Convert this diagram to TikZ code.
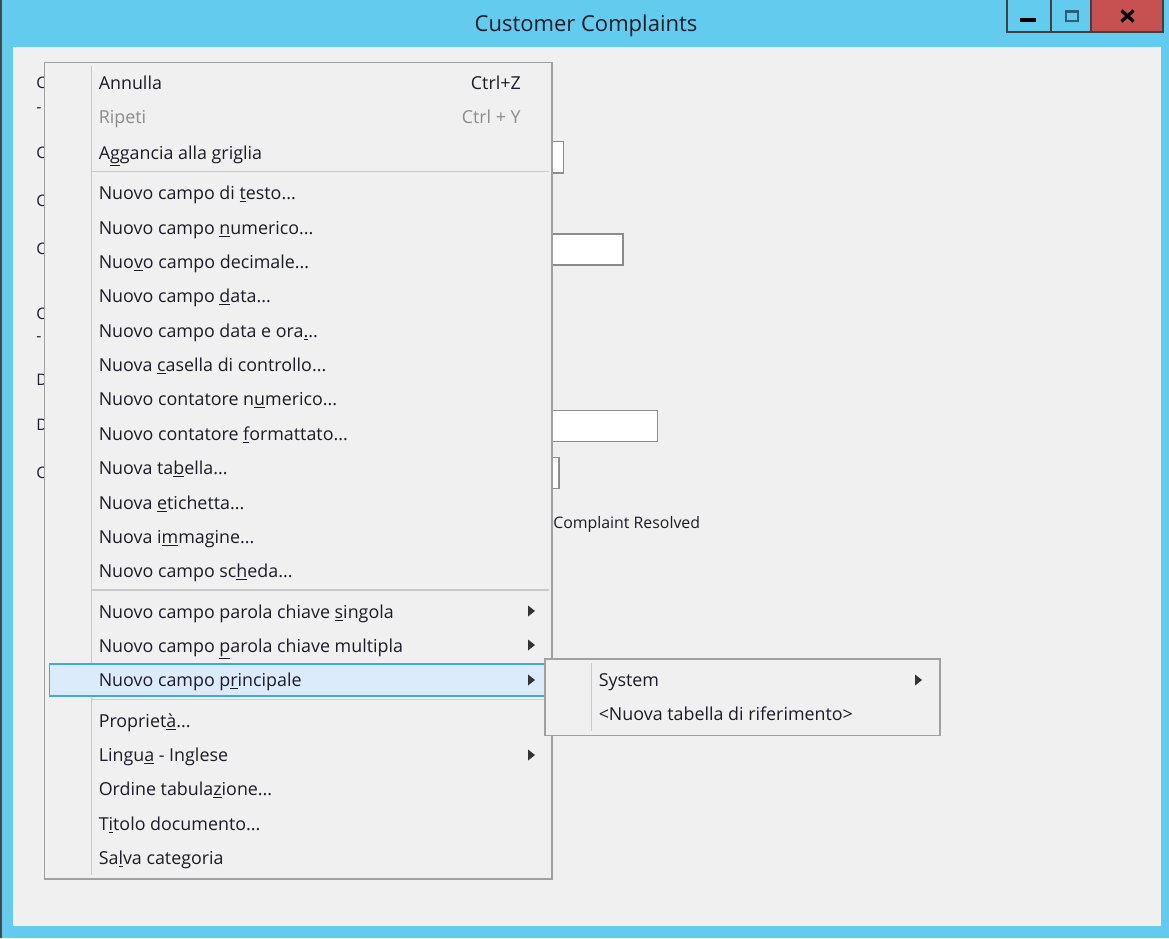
\documentclass[tikz,border=0pt]{standalone}
\usepackage{fontspec}
\setmainfont{Open Sans}
\usetikzlibrary{calc}
\definecolor{winblue}{HTML}{63CBEE}
\definecolor{winface}{HTML}{F0F0F0}
\definecolor{menuline}{HTML}{A0A0A0}
\definecolor{sepline}{HTML}{C9C9C9}
\definecolor{hiborder}{HTML}{3FA9E0}
\definecolor{hifill}{HTML}{DCEBFC}
\definecolor{closered}{HTML}{C75050}
\definecolor{boxline}{HTML}{8C8C8C}
\definecolor{inktext}{HTML}{1C1C28}
\definecolor{maxicon}{HTML}{2A6078}
\newcommand{\mn}[1]{\underline{#1}}
\tikzset{
	menutext/.style={anchor=base west, inner sep=0pt, text=inktext, font=\fontsize{13.4}{16}\selectfont},
	graytext/.style={menutext, text=black!45},
	shorttext/.style={menutext, anchor=base east},
	formtext/.style={menutext, font=\fontsize{11.9}{14}\selectfont},
	menubox/.style={draw=menuline, line width=1.1pt, fill=winface},
	fieldbox/.style={draw=boxline, line width=1.1pt, fill=white},
	sepbar/.style={draw=sepline, line width=1.1pt},
	subarrow/.style={fill=black!80, draw=none},
	winbutton/.style={draw=black!75, line width=0.9pt}
}
\begin{document}
\begin{tikzpicture}[x=0.75pt,y=-0.75pt]
		%%%%% START %%%%%
		\useasboundingbox (0, 0) rectangle (1169, 938);

		% window frame
		\fill[winblue] (0, 0) rectangle (1169, 938);
		\fill[black!72] (0, 0) rectangle (2, 938);
		\fill[winface] (12.5, 47) rectangle (1161, 926);
		\node[menutext, anchor=base, font=\fontsize{16.5}{20}\selectfont] (title) at (586, 31.5) {Customer Complaints};

		% window buttons
		\fill[closered] (1091, 0) rectangle (1163, 32);
		\draw[winbutton] (1007, 0) -- (1007, 32) -- (1163, 32) -- (1163, 0);
		\draw[winbutton] (1051, 0) -- (1051, 32);
		\draw[winbutton] (1091, 0) -- (1091, 32);
		\fill[black] (1020, 18) rectangle (1036, 22);
		\draw[draw=maxicon, line width=2.2pt] (1066, 11.5) rectangle (1078, 21);
		\draw[line width=2.4pt] (1121.5, 10.5) -- (1133.5, 21.5);
		\draw[line width=2.4pt] (1133.5, 10.5) -- (1121.5, 21.5);

		% form behind the menu
		\node[formtext] (formA) at (36, 89) {C};
		\node[formtext] (formB) at (36, 113) {-};
		\node[formtext] (formC) at (36, 158) {C};
		\node[formtext] (formD) at (36, 206) {C};
		\node[formtext] (formE) at (36, 254) {C};
		\node[formtext] (formF) at (36, 319) {C};
		\node[formtext] (formG) at (36, 341) {-};
		\node[formtext] (formH) at (36, 385) {D};
		\node[formtext] (formI) at (36, 430) {D};
		\node[formtext] (formJ) at (36, 478) {C};
		\draw[fieldbox] (500, 141.5) rectangle (563.5, 173);
		\draw[fieldbox] (500, 234) rectangle (623, 265);
		\draw[fieldbox] (500, 410.5) rectangle (657.5, 441.5);
		\draw[fieldbox] (500, 457.5) rectangle (559, 488.5);
		\node[formtext] (resolved) at (553, 528) {Complaint Resolved};

		% main menu
		\draw[menubox] (44.5, 62.5) rectangle (552, 879);
		\draw[sepbar] (91.5, 66) -- (91.5, 875);
		\draw[sepbar] (92, 171.5) -- (549, 171.5);
		\draw[sepbar] (92, 590) -- (549, 590);
		\draw[sepbar] (92, 699.5) -- (549, 699.5);
		\draw[draw=hiborder, fill=hifill, line width=1.4pt] (49.5, 664) rectangle (546, 696);

		\node[menutext] (annulla) at (98.5, 90) {Annulla};
		\node[shorttext] (annullakey) at (521, 90) {Ctrl+Z};
		\node[graytext] (ripeti) at (98.5, 124) {Ripeti};
		\node[shorttext, text=black!45] (ripetikey) at (521, 124) {Ctrl + Y};
		\node[menutext] (griglia) at (98.5, 159) {A\mn{g}gancia alla griglia};
		\node[menutext] (testo) at (98.5, 199) {Nuovo campo di \mn{t}esto...};
		\node[menutext] (numerico) at (98.5, 234) {Nuovo campo \mn{n}umerico...};
		\node[menutext] (decimale) at (98.5, 268) {Nuo\mn{v}o campo decimale...};
		\node[menutext] (data) at (98.5, 302) {Nuovo campo \mn{d}ata...};
		\node[menutext] (dataora) at (98.5, 337) {Nuovo campo data e ora\mn{.}..};
		\node[menutext] (casella) at (98.5, 371) {Nuova \mn{c}asella di controllo...};
		\node[menutext] (contnum) at (98.5, 405) {Nuovo contatore n\mn{u}merico...};
		\node[menutext] (contform) at (98.5, 440) {Nuovo contatore \mn{f}ormattato...};
		\node[menutext] (tabella) at (98.5, 474) {Nuova ta\mn{b}ella...};
		\node[menutext] (etichetta) at (98.5, 509) {Nuova \mn{e}tichetta...};
		\node[menutext] (immagine) at (98.5, 543) {Nuova i\mn{m}magine...};
		\node[menutext] (scheda) at (98.5, 577) {Nuovo campo sc\mn{h}eda...};
		\node[menutext] (singola) at (98.5, 618) {Nuovo campo parola chiave \mn{s}ingola};
		\node[menutext] (multipla) at (98.5, 652) {Nuovo campo \mn{p}arola chiave multipla};
		\node[menutext] (principale) at (98.5, 686.5) {Nuovo campo p\mn{r}incipale};
		\node[menutext] (proprieta) at (98.5, 727.5) {Propriet\mn{à}...};
		\node[menutext] (lingua) at (98.5, 761.5) {Lingu\mn{a} - Inglese};
		\node[menutext] (ordine) at (98.5, 795.5) {Ordine tabula\mn{z}ione...};
		\node[menutext] (titolo) at (98.5, 830) {T\mn{i}tolo documento...};
		\node[menutext] (salva) at (98.5, 864.5) {Sa\mn{l}va categoria};

		\fill[subarrow] (528, 605.5) -- (535, 611) -- (528, 616.5) -- cycle;
		\fill[subarrow] (528, 639.5) -- (535, 645) -- (528, 650.5) -- cycle;
		\fill[subarrow] (528, 674.5) -- (535, 680) -- (528, 685.5) -- cycle;
		\fill[subarrow] (528, 749.5) -- (535, 755) -- (528, 760.5) -- cycle;

		% sub menu
		\draw[menubox] (545, 659) rectangle (940, 735.5);
		\draw[sepbar] (591.5, 663) -- (591.5, 731);
		\node[menutext] (system) at (598.5, 686.5) {System};
		\node[menutext] (riferimento) at (598.5, 720.5) {<Nuova tabella di riferimento>};
		\fill[subarrow] (915, 674.5) -- (922, 680) -- (915, 685.5) -- cycle;

		%%%%% END %%%%%
	\end{tikzpicture}
\end{document}
